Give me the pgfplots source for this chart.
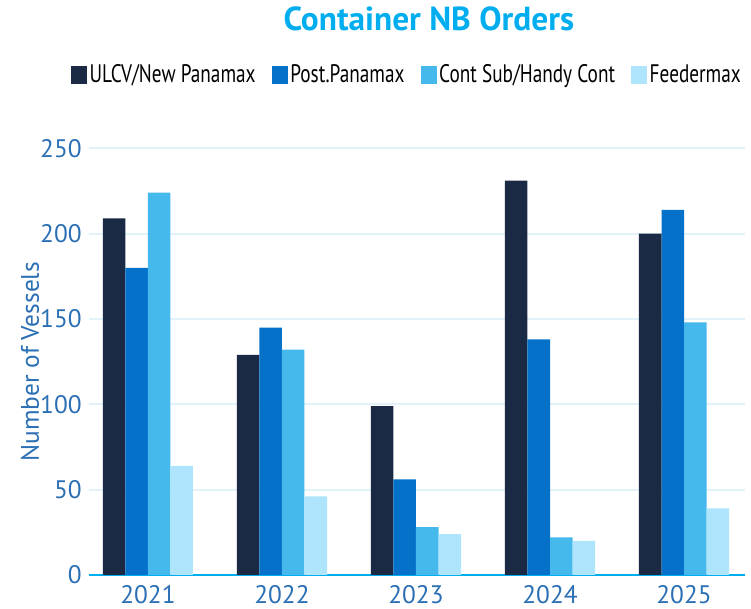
\documentclass[border=0pt]{standalone}
\usepackage{fontspec}
\setmainfont{PT Sans}
\newfontfamily\condfont[FakeStretch=0.76]{PT Sans}
\usepackage{pgfplots}
\pgfplotsset{compat=1.18}

\definecolor{ulcv}{HTML}{1B2A44}
\definecolor{postpx}{HTML}{0571C8}
\definecolor{contsub}{HTML}{45B8EC}
\definecolor{feeder}{HTML}{AEE5FC}
\definecolor{titlecyan}{HTML}{00AEEF}
\definecolor{tickblue}{HTML}{2B6FB4}
\definecolor{gridblue}{HTML}{E2F2FB}

\begin{document}
\begin{tikzpicture}
% picture frame in px*0.75pt, axis box origin at (0,0)
\useasboundingbox (-66.75pt,-25.5pt) rectangle (496.5pt,431.25pt);
\begin{axis}[
  at={(0,0)}, anchor=south west,
  scale only axis, width=492pt, height=320pt,
  ymin=0, ymax=250, ytick={0,50,...,250},
  xmin=-0.44, xmax=4.455,
  xtick={0,1,2,3,4}, xticklabels={2021,2022,2023,2024,2025},
  major tick length=0pt,
  axis x line*=bottom, axis y line*=left,
  x axis line style={titlecyan, line width=1.6pt, -},
  y axis line style={draw=none},
  ymajorgrids, grid style={gridblue, line width=1.3pt},
  /pgf/number format/assume math mode=true,
  tick label style={font=\fontsize{19}{20}\selectfont, text=tickblue},
  yticklabel style={xshift=-2pt},
  xticklabel style={yshift=-4pt},
  ylabel={Number of Vessels},
  ylabel style={at={(axis description cs:-0.09,0.5)}, anchor=center, font=\fontsize{19}{20}\selectfont, text=tickblue},
  title={Container NB Orders},
  title style={at={(axis description cs:0.518,1.284)}, anchor=center, font=\fontsize{25}{26}\bfseries, text=titlecyan},
  ybar, bar width=0.168,
  legend columns=4,
  legend style={at={(axis description cs:0.485,1.172)}, anchor=center, draw=none, font=\condfont\fontsize{19}{20}\selectfont,
    /tikz/every even column/.append style={column sep=10pt}},
  legend image code/.code={\fill[#1] (0pt,-6.5pt) rectangle (12pt,6.5pt);},
]
\addplot[fill=ulcv, draw=none, bar shift=-0.252] coordinates {(0,209) (1,129) (2,99) (3,231) (4,200)};
\addlegendentry{ULCV/New Panamax}
\addplot[fill=postpx, draw=none, bar shift=-0.084] coordinates {(0,180) (1,145) (2,56) (3,138) (4,214)};
\addlegendentry{Post.Panamax}
\addplot[fill=contsub, draw=none, bar shift=0.084] coordinates {(0,224) (1,132) (2,28) (3,22) (4,148)};
\addlegendentry{Cont Sub/Handy Cont}
\addplot[fill=feeder, draw=none, bar shift=0.252] coordinates {(0,64) (1,46) (2,24) (3,20) (4,39)};
\addlegendentry{Feedermax}
\end{axis}
\end{tikzpicture}
\end{document}
